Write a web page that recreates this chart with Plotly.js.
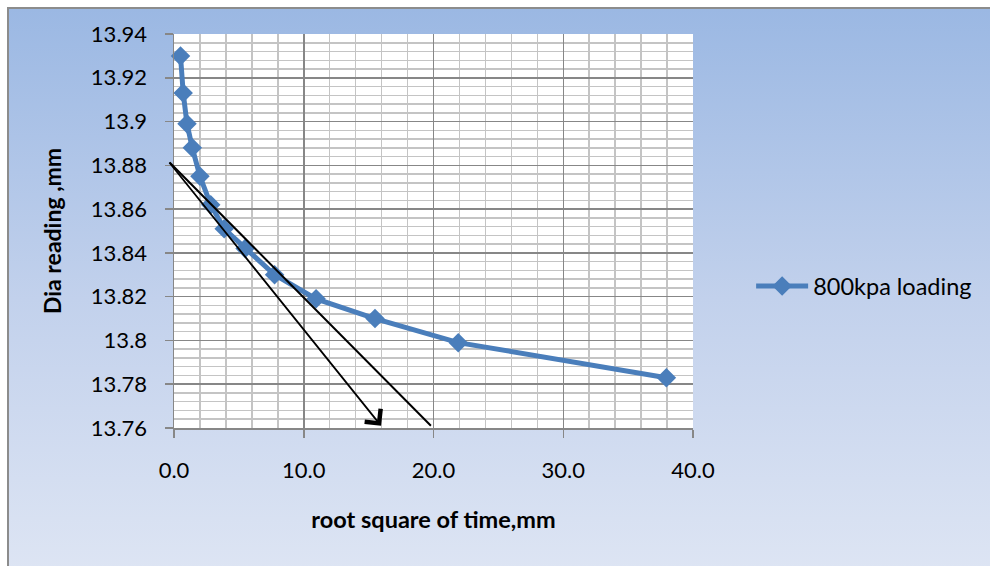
<!DOCTYPE html>
<html>
<head>
<meta charset="utf-8">
<script src="https://cdn.plot.ly/plotly-3.0.1.min.js"></script>
<style>
  html, body { margin: 0; padding: 0; background: #ffffff; overflow: hidden; }
  #frame {
    position: absolute; left: 7px; top: 7px; width: 1000px; height: 580px;
    border-left: 2px solid #8c8c8c; border-top: 2px solid #8c8c8c;
    background: linear-gradient(to bottom, #9bb8e3 0%, #c2d1ec 50%, #dfe6f4 100%);
  }
  #chart { position: absolute; left: 0; top: 0; width: 990px; height: 566px; }
</style>
</head>
<body>
<div id="frame"></div>
<div id="chart"></div>
<script>
// Data
const seriesName = "800kpa loading";
const rootTime = [0.5, 0.71, 1.0, 1.41, 2.0, 2.83, 3.87, 5.48, 7.75, 10.95, 15.49, 21.91, 37.95];
const diaReading = [13.930, 13.913, 13.899, 13.888, 13.875, 13.862, 13.851, 13.842, 13.830, 13.819, 13.810, 13.799, 13.783];

// Construction lines drawn on the chart (start and end points, data units)
const lineStart = [-0.45, 13.882];
const arrowEnd = [15.96, 13.761];
const plainEnd = [19.8, 13.761];

// Axis ticks
const yTickVals = [13.76, 13.78, 13.80, 13.82, 13.84, 13.86, 13.88, 13.90, 13.92, 13.94];
const yTickText = ["13.76", "13.78", "13.8", "13.82", "13.84", "13.86", "13.88", "13.9", "13.92", "13.94"];
const xTickVals = [0, 10, 20, 30, 40];
const xTickText = ["0.0", "10.0", "20.0", "30.0", "40.0"];

const blue = "#4a7ebb";
const font = "Lato, 'Open Sans', sans-serif";

const trace = {
  x: rootTime, y: diaReading, name: seriesName,
  type: "scatter", mode: "lines+markers",
  line: { color: blue, width: 5 },
  marker: { symbol: "diamond", size: 15, color: blue },
  cliponaxis: false
};

const layout = {
  width: 990, height: 566,
  paper_bgcolor: "rgba(0,0,0,0)",
  plot_bgcolor: "#ffffff",
  margin: { l: 174, r: 297, t: 34, b: 138 },
  font: { family: font, color: "#000000", size: 22 },
  showlegend: true,
  legend: {
    x: 1.112, y: 0.36, xanchor: "left", yanchor: "middle",
    bgcolor: "rgba(0,0,0,0)", font: { size: 23.5, family: font },
    itemwidth: 52
  },
  xaxis: {
    range: [0, 40],
    tickmode: "array", tickvals: xTickVals, ticktext: xTickText,
    showgrid: true, gridcolor: "#878787", gridwidth: 1.5,
    minor: { tickmode: "linear", tick0: 0, dtick: 2, showgrid: true, gridcolor: "#c4c4c4", gridwidth: 1.5 },
    showline: true, linecolor: "#878787", linewidth: 1.5,
    ticks: "outside", ticklen: 8, tickcolor: "#878787", tickwidth: 1.5,
    ticklabelstandoff: 14,
    zeroline: false,
    title: { text: "<b>root square of time,mm</b>", font: { size: 23.5, family: font }, standoff: 29 }
  },
  yaxis: {
    range: [13.76, 13.94],
    tickmode: "array", tickvals: yTickVals, ticktext: yTickText,
    showgrid: true, gridcolor: "#878787", gridwidth: 1.5,
    minor: { tickmode: "linear", tick0: 13.76, dtick: 0.004, showgrid: true, gridcolor: "#c4c4c4", gridwidth: 1.5 },
    showline: true, linecolor: "#878787", linewidth: 1.5,
    ticks: "outside", ticklen: 8, tickcolor: "#878787", tickwidth: 1.5,
    ticklabelstandoff: 13,
    zeroline: false,
    title: { text: "<b>Dia reading ,mm</b>", font: { size: 23, family: font }, standoff: 23 }
  },
  annotations: [
    {
      xref: "x", yref: "y", axref: "x", ayref: "y",
      x: arrowEnd[0], y: arrowEnd[1], ax: lineStart[0], ay: lineStart[1],
      text: "", showarrow: true, arrowhead: 4, arrowsize: 2.2, arrowwidth: 1.8, arrowcolor: "#000000"
    },
    {
      xref: "x", yref: "y", axref: "x", ayref: "y",
      x: plainEnd[0], y: plainEnd[1], ax: lineStart[0], ay: lineStart[1],
      text: "", showarrow: true, arrowhead: 0, arrowwidth: 2, arrowcolor: "#000000"
    }
  ]
};

Plotly.newPlot("chart", [trace], layout, { displayModeBar: false, staticPlot: true });
</script>
</body>
</html>
